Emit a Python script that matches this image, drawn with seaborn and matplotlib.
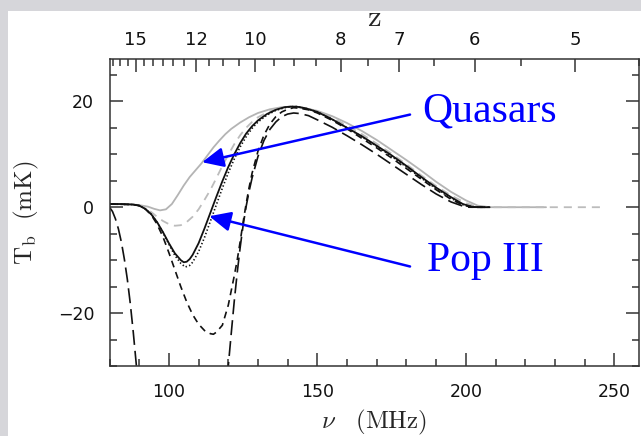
import matplotlib
matplotlib.use("Agg")
import matplotlib.pyplot as plt
import pandas as pd
import seaborn as sns
from matplotlib.patches import Rectangle
from matplotlib.ticker import MultipleLocator, FixedLocator, NullFormatter

# 21-cm brightness temperature against observed frequency for several
# reionisation histories (Pop III stars and quasars as ionising sources).
NU_21 = 1420.4  # rest-frame frequency of the 21-cm line, MHz

# grey solid
nu_qso = [80, 86, 90, 93, 95, 97, 99, 101, 103, 105, 107, 109, 111, 113, 115, 117, 119, 121,
          124, 127, 130, 134, 138, 141, 145, 150, 155, 160, 165, 170, 175, 180, 185, 190,
          195, 200, 204, 208, 227]
tb_qso = [0.6, 0.6, 0.4, 0.1, -0.3, -0.6, -0.4, 0.6, 2.3, 4.1, 5.7, 7.0, 8.3, 9.8, 11.3, 12.6,
          13.8, 14.8, 16.0, 17.0, 17.8, 18.5, 18.9, 19.0, 18.8, 18.2, 17.2, 15.9, 14.4, 12.7,
          10.8, 8.9, 6.9, 4.8, 2.9, 1.3, 0.3, 0.0, 0.0]

# grey dashed
nu_qso2 = [80, 88, 90, 92, 94, 96, 98, 100, 102, 104, 106, 108, 110, 112, 114, 116, 118, 120,
           122, 124, 126, 128, 130, 133, 136, 139, 141, 144, 148, 152, 156, 160, 165, 170,
           175, 180, 185, 190, 195, 200, 203, 205, 246]
tb_qso2 = [0.6, 0.5, 0.3, -0.2, -0.9, -1.8, -2.6, -3.2, -3.5, -3.4, -2.8, -1.8, -0.4, 1.4,
           3.3, 5.5, 7.8, 9.9, 11.9, 13.6, 15.0, 16.1, 17.0, 17.9, 18.5, 18.9, 19.0, 18.9,
           18.4, 17.6, 16.6, 15.4, 13.8, 12.0, 10.1, 8.1, 6.0, 4.0, 2.2, 0.8, 0.2, 0.0, 0.0]

# black solid
nu_pop3 = [80, 84, 88, 90, 92, 94, 96, 98, 100, 102, 104, 105, 106, 107, 108, 110, 112, 114,
           116, 118, 120, 122, 124, 126, 128, 130, 133, 136, 139, 141, 143, 146, 150, 155,
           160, 165, 170, 175, 180, 185, 190, 195, 199, 202, 204, 208]
tb_pop3 = [0.6, 0.6, 0.5, 0.3, -0.3, -1.3, -2.8, -4.7, -6.8, -8.7, -10.0, -10.4, -10.3, -9.8,
           -9.0, -6.8, -4.0, -1.0, 2.0, 4.9, 7.6, 10.0, 12.1, 13.9, 15.3, 16.4, 17.6, 18.4,
           18.9, 19.0, 19.0, 18.7, 18.0, 16.6, 15.0, 13.4, 11.6, 9.8, 7.8, 5.7, 3.7, 1.9,
           0.6, 0.1, 0.0, 0.0]

# black dotted
nu_dot = [80, 88, 90, 92, 94, 96, 98, 100, 102, 104, 105.5, 107, 108, 110, 112, 114, 116, 118,
          120, 122, 124, 126, 128, 130, 133, 136, 139, 141, 143, 146, 150, 155, 160, 165,
          170, 175, 180, 185, 190, 195, 199, 202, 204, 208]
tb_dot = [0.6, 0.5, 0.3, -0.3, -1.3, -2.8, -4.8, -7.0, -9.1, -10.6, -11.3, -11.0, -10.4, -8.4,
          -5.7, -2.6, 0.5, 3.6, 6.5, 9.1, 11.4, 13.3, 14.9, 16.1, 17.4, 18.3, 18.8, 19.0,
          19.0, 18.7, 18.0, 16.6, 15.0, 13.3, 11.5, 9.6, 7.6, 5.5, 3.5, 1.7, 0.5, 0.1, 0.0, 0.0]

# black short dashes
nu_sdash = [80, 88, 90, 92, 94, 96, 98, 100, 102, 104, 106, 108, 110, 112, 114, 115, 116, 118,
            120, 122, 123, 124, 125, 126, 127, 128, 130, 132, 134, 136, 138, 140, 142, 144,
            147, 150, 155, 160, 165, 170, 175, 180, 185, 190, 195, 199, 202, 208]
tb_sdash = [0.6, 0.5, 0.3, -0.3, -1.4, -3.2, -5.6, -8.6, -11.8, -15.0, -17.9, -20.3, -22.1,
            -23.3, -23.9, -24.0, -23.6, -22.3, -18.5, -13.0, -10.0, -6.5, -2.8, 0.6, 3.7,
            6.4, 10.6, 13.6, 15.7, 17.1, 18.0, 18.5, 18.8, 18.7, 18.4, 17.8, 16.4, 14.8,
            13.0, 11.2, 9.3, 7.3, 5.3, 3.3, 1.5, 0.4, 0.0, 0.0]

# black long dashes: the trough falls below the plotted range, so the
# curve comes in two pieces
nu_ldash_a = [80, 81, 82, 83, 84, 85, 86, 87, 88, 89, 90]
tb_ldash_a = [0.0, -0.8, -2.2, -4.1, -6.6, -9.8, -13.6, -18.2, -23.6, -29.6, -36.0]
nu_ldash_b = [119, 120, 121, 122, 123, 124, 125, 126, 127, 128, 130, 132, 134, 136, 138, 140,
              142, 144, 147, 150, 155, 160, 165, 170, 175, 180, 185, 190, 195, 199, 201, 208]
tb_ldash_b = [-36.0, -30.0, -23.8, -17.8, -12.4, -7.6, -3.4, 0.1, 3.0, 5.5, 9.6, 12.6, 14.7,
              16.1, 17.1, 17.6, 17.8, 17.7, 17.3, 16.5, 15.1, 13.5, 11.8, 10.0, 8.1, 6.2,
              4.3, 2.5, 1.0, 0.2, 0.0, 0.0]

# redshift ticks of the top axis
z_major = [15, 12, 10, 8, 7, 6, 5]
z_minor = [16.5, 16, 15.5, 14.5, 14, 13.5, 13, 12.5, 11.5, 11, 10.5, 9.5, 9, 8.5, 7.5, 6.5,
           5.5, 4.5]


def frame(model, segment, nu, tb):
    return pd.DataFrame({"model": model, "segment": segment, "nu": nu, "tb": tb})


curves = pd.concat([
    frame("qso", 0, nu_qso, tb_qso),
    frame("qso2", 0, nu_qso2, tb_qso2),
    frame("pop3", 0, nu_pop3, tb_pop3),
    frame("dot", 0, nu_dot, tb_dot),
    frame("sdash", 0, nu_sdash, tb_sdash),
    frame("ldash", 0, nu_ldash_a, tb_ldash_a),
    frame("ldash", 1, nu_ldash_b, tb_ldash_b),
], ignore_index=True)

styles = {
    "qso":   dict(color="#b4b4b4", lw=1.3, linestyle="-"),
    "qso2":  dict(color="#bcbcbc", lw=1.3, linestyle=(0, (5.8, 4.3))),
    "pop3":  dict(color="#111111", lw=1.3, linestyle="-"),
    "dot":   dict(color="#111111", lw=1.2, linestyle=(0, (1.0, 1.6))),
    "sdash": dict(color="#111111", lw=1.2, linestyle=(0, (5.0, 3.6))),
    "ldash": dict(color="#111111", lw=1.2, linestyle=(0, (10.8, 4.3))),
}

sns.set_theme(style="ticks")
plt.rcParams.update({
    "font.family": ["DejaVu Sans"],
    "mathtext.fontset": "cm",
    "lines.scale_dashes": False,
    "axes.edgecolor": "#333333",
    "axes.linewidth": 1.1,
    "xtick.color": "#333333",
    "ytick.color": "#333333",
    "xtick.labelcolor": "#111111",
    "ytick.labelcolor": "#111111",
})

fig = plt.figure(figsize=(6.41, 4.36), dpi=100, facecolor="#d6d6da")
# white slide panel behind the plot
fig.add_artist(Rectangle((8 / 641, 0), 1, (436 - 11) / 436, transform=fig.transFigure,
                         facecolor="white", edgecolor="none", zorder=0))

ax = fig.add_axes([109.5 / 641, 70 / 436, 529.5 / 641, 307 / 436])
ax.set_facecolor("white")

for model in ["qso", "qso2", "ldash", "sdash", "dot", "pop3"]:
    sns.lineplot(data=curves[curves["model"] == model], x="nu", y="tb", units="segment",
                 estimator=None, sort=False, ax=ax, legend=False, **styles[model])

ax.set_xlim(80, 258.3)
ax.set_ylim(-30, 28)
ax.xaxis.set_major_locator(MultipleLocator(50))
ax.xaxis.set_minor_locator(MultipleLocator(10))
ax.yaxis.set_major_locator(MultipleLocator(20))
ax.yaxis.set_minor_locator(MultipleLocator(5))
ax.tick_params(which="both", direction="in", top=False, right=True, labelsize=12.5, width=1.1)
ax.tick_params(which="major", length=9.5)
ax.tick_params(which="minor", length=5)
ax.tick_params(axis="x", pad=12)
ax.tick_params(axis="y", pad=11)

ax.set_xlabel(r"$\nu\ \ \ (\mathrm{MHz})$", fontsize=18, labelpad=5)
ax.set_ylabel(r"$\mathrm{T_b\ \ (mK)}$", fontsize=18, labelpad=12)

# redshift axis along the top
top = ax.twiny()
top.set_xlim(ax.get_xlim())
top.xaxis.set_major_locator(FixedLocator([NU_21 / (1 + z) for z in z_major]))
top.xaxis.set_minor_locator(FixedLocator([NU_21 / (1 + z) for z in z_minor]))
top.set_xticklabels([str(z) for z in z_major])
top.xaxis.set_minor_formatter(NullFormatter())
top.tick_params(which="both", direction="in", labelsize=13, width=1.1, pad=7)
top.tick_params(which="major", length=9.5)
top.tick_params(which="minor", length=5)
top.set_xlabel(r"$\mathrm{z}$", fontsize=22, labelpad=4)
for s in top.spines.values():
    s.set_visible(False)

# labelled arrows
arrow = dict(arrowstyle="-|>,head_length=0.65,head_width=0.3", mutation_scale=20,
             color="#0000ff", lw=1.8, shrinkA=0, shrinkB=0)
ax.annotate("", xy=(111.2, 8.5), xytext=(181.2, 17.5), arrowprops=arrow)
ax.annotate("", xy=(113.6, -1.7), xytext=(181.2, -11.2), arrowprops=arrow)
ax.text(185.3, 16.2, "Quasars", color="#0000ff", fontsize=30, family="Liberation Serif",
        ha="left", va="baseline")
ax.text(187.0, -12.1, "Pop III", color="#0000ff", fontsize=30, family="Liberation Serif",
        ha="left", va="baseline")

fig.savefig("out.png", dpi=100, facecolor=fig.get_facecolor())
